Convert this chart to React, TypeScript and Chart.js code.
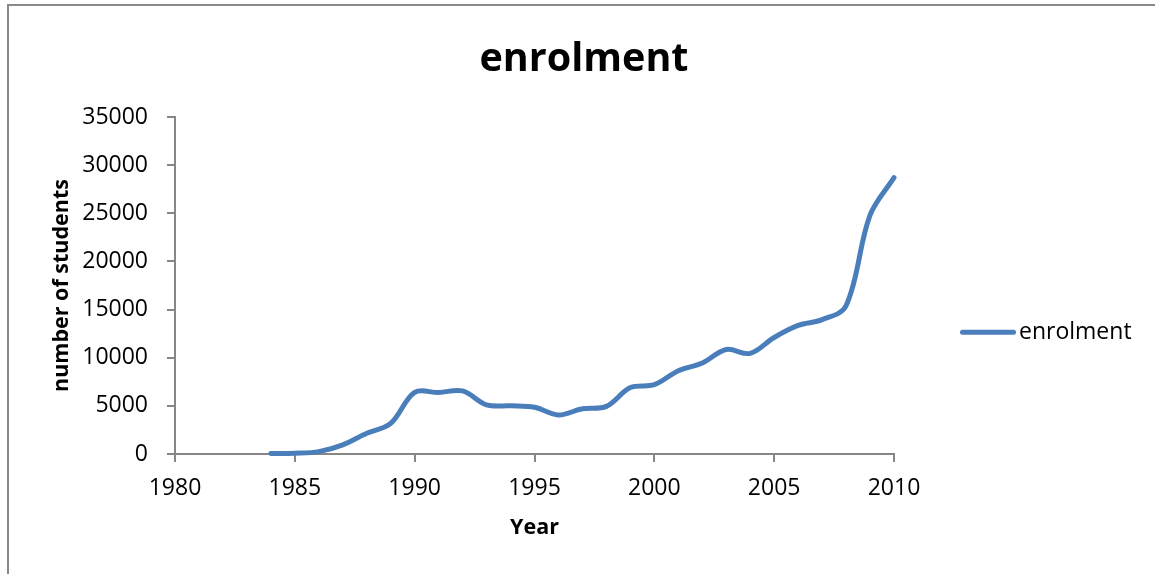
import { useEffect, useRef } from "react";
import { Chart, registerables } from "chart.js";

Chart.register(...registerables);

// Yearly enrolment figures
const years = [
  1984, 1985, 1986, 1987, 1988, 1989, 1990, 1991, 1992, 1993, 1994, 1995, 1996,
  1997, 1998, 1999, 2000, 2001, 2002, 2003, 2004, 2005, 2006, 2007, 2008, 2009,
  2010,
];
const enrolment = [
  50, 80, 250, 950, 2150, 3180, 6400, 6380, 6550, 5100, 5000, 4850, 4050, 4700,
  4950, 6900, 7200, 8650, 9450, 10850, 10450, 12100, 13350, 13950, 15400, 24800,
  28700,
];
const seriesName = "enrolment";
const chartTitle = "enrolment";
const xAxisTitle = "Year";
const yAxisTitle = "number of students";
const xTicks = [1980, 1985, 1990, 1995, 2000, 2005, 2010];
const yTicks = [0, 5000, 10000, 15000, 20000, 25000, 30000, 35000];

const FONT = "'Open Sans', 'DejaVu Sans', sans-serif";
const LINE_COLOR = "#4A7EBB";
const AXIS_COLOR = "#868686";

// Legend drawn beside the plot: a line sample followed by the series name
const sideLegend = {
  id: "sideLegend",
  afterDraw(chart: any) {
    const { ctx, chartArea } = chart;
    const ds = chart.data.datasets[0];
    const x0 = chartArea.right + 68.5;
    const y = chartArea.top + (chartArea.bottom - chartArea.top) * 0.639;
    ctx.save();
    ctx.strokeStyle = ds.borderColor;
    ctx.lineWidth = ds.borderWidth;
    ctx.lineCap = "round";
    ctx.beginPath();
    ctx.moveTo(x0, y);
    ctx.lineTo(x0 + 51, y);
    ctx.stroke();
    ctx.fillStyle = "#000";
    ctx.font = `23px ${FONT}`;
    ctx.textBaseline = "middle";
    ctx.textAlign = "left";
    ctx.fillText(ds.label, x0 + 56.5, y);
    ctx.restore();
  },
};

export default function App() {
  const canvasRef = useRef<HTMLCanvasElement | null>(null);

  useEffect(() => {
    const canvas = canvasRef.current;
    if (!canvas) return;
    const chart = new Chart(canvas, {
      type: "line",
      data: {
        datasets: [
          {
            label: seriesName,
            data: years.map((yr, i) => ({ x: yr, y: enrolment[i] })),
            borderColor: LINE_COLOR,
            backgroundColor: LINE_COLOR,
            borderWidth: 5,
            borderCapStyle: "round",
            borderJoinStyle: "round",
            tension: 0.35,
            pointRadius: 0,
            pointHoverRadius: 0,
            fill: false,
            clip: false,
          },
        ],
      },
      options: {
        responsive: false,
        animation: false,
        events: [],
        layout: { padding: { left: 13, right: 0, top: 0, bottom: 0 } },
        plugins: {
          legend: { display: false },
          tooltip: { enabled: false },
          title: {
            display: true,
            text: chartTitle,
            color: "#000",
            font: { family: FONT, size: 39.5, weight: "bold" },
            padding: { top: 36, bottom: 33.6 },
          },
        },
        scales: {
          x: {
            type: "linear",
            min: 1980,
            max: 2010,
            afterBuildTicks: (s: any) => {
              s.ticks = xTicks.map((v) => ({ value: v }));
            },
            afterFit: (s: any) => {
              s.height = 120;
            },
            ticks: {
              color: "#000",
              font: { family: FONT, size: 23 },
              padding: 13,
              maxRotation: 0,
              callback: (v: any) => String(v),
            },
            grid: {
              drawOnChartArea: false,
              drawTicks: true,
              tickLength: 8,
              color: AXIS_COLOR,
              lineWidth: 2,
            },
            border: { display: true, color: AXIS_COLOR, width: 2 },
            title: {
              display: true,
              text: xAxisTitle,
              color: "#000",
              font: { family: FONT, size: 21.5, weight: "bold" },
              padding: { top: 0, bottom: 33 },
            },
          },
          y: {
            type: "linear",
            min: 0,
            max: 35000,
            afterBuildTicks: (s: any) => {
              s.ticks = yTicks.map((v) => ({ value: v }));
            },
            afterFit: (s: any) => {
              s.width = 162;
            },
            ticks: {
              color: "#000",
              font: { family: FONT, size: 23 },
              padding: 19,
              callback: (v: any) => String(v),
            },
            grid: {
              drawOnChartArea: false,
              drawTicks: true,
              tickLength: 8,
              color: AXIS_COLOR,
              lineWidth: 2,
            },
            border: { display: true, color: AXIS_COLOR, width: 2 },
            title: {
              display: true,
              text: yAxisTitle,
              color: "#000",
              font: { family: FONT, size: 21.5, weight: "bold" },
              padding: { top: 36, bottom: 0 },
            },
          },
          // space on the right that holds the legend
          side: {
            type: "linear",
            position: "right",
            display: true,
            afterFit: (s: any) => {
              s.width = 261;
            },
            ticks: { display: false },
            grid: { display: false },
            border: { display: false },
          },
        },
      },
      plugins: [sideLegend],
    });
    return () => chart.destroy();
  }, []);

  return (
    <div
      style={{
        position: "fixed",
        left: 0,
        top: 0,
        width: 1155,
        height: 574,
        overflow: "hidden",
        background: "#fff",
      }}
    >
      <div
        style={{
          position: "absolute",
          left: 7,
          top: 4,
          width: 1300,
          height: 800,
          border: "2px solid #898989",
          boxSizing: "border-box",
        }}
      />
      <canvas
        ref={canvasRef}
        width={1155}
        height={574}
        style={{ position: "absolute", left: 0, top: 0, width: 1155, height: 574 }}
      />
    </div>
  );
}
